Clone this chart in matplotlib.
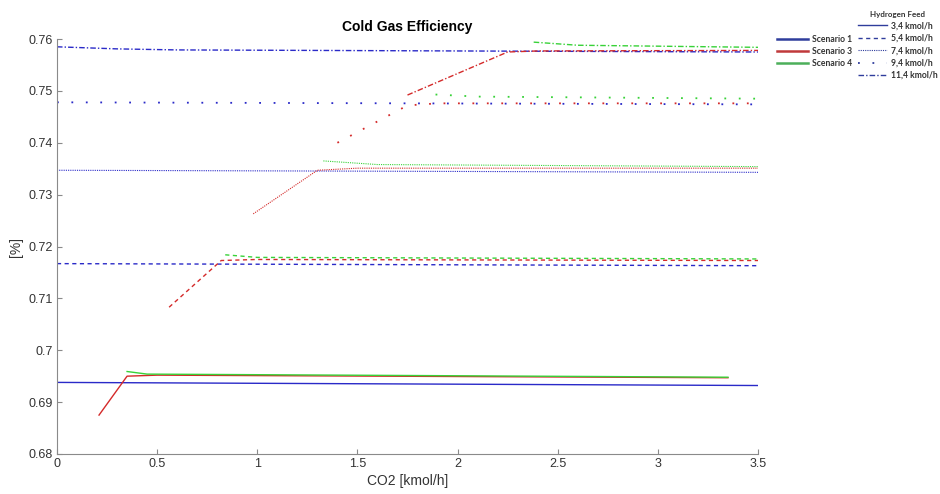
import matplotlib
matplotlib.use("Agg")
import matplotlib.pyplot as plt
from matplotlib.lines import Line2D

# ---------------- data ----------------
feeds = ["3,4 kmol/h", "5,4 kmol/h", "7,4 kmol/h", "9,4 kmol/h", "11,4 kmol/h"]
scenarios = ["Scenario 1", "Scenario 3", "Scenario 4"]

# Scenario 1 (blue)
s1_x_34 = [0.0, 3.5]
s1_y_34 = [0.6938, 0.6932]
s1_x_54 = [0.0, 3.5]
s1_y_54 = [0.7167, 0.7163]
s1_x_74 = [0.0, 3.5]
s1_y_74 = [0.7347, 0.7343]
s1_x_94 = [0.0, 3.5]
s1_y_94 = [0.7478, 0.7474]
s1_x_114 = [0.0, 0.3, 0.6, 2.0, 3.5]
s1_y_114 = [0.7585, 0.7581, 0.7579, 0.7577, 0.7575]

# Scenario 3 (red)
s3_x_34 = [0.21, 0.35, 0.5, 3.35]
s3_y_34 = [0.6875, 0.6950, 0.6952, 0.6947]
s3_x_54 = [0.56, 0.82, 1.0, 3.5]
s3_y_54 = [0.7083, 0.7173, 0.7175, 0.7173]
s3_x_74 = [0.98, 1.30, 1.5, 3.5]
s3_y_74 = [0.7263, 0.7347, 0.7351, 0.7351]
s3_x_94 = [1.40, 1.75, 1.9, 3.5]
s3_y_94 = [0.7400, 0.7472, 0.7476, 0.7476]
s3_x_114 = [1.75, 2.25, 2.4, 3.5]
s3_y_114 = [0.7492, 0.7575, 0.7577, 0.7578]

# Scenario 4 (green)
s4_x_34 = [0.35, 0.45, 3.35]
s4_y_34 = [0.6959, 0.6954, 0.6948]
s4_x_54 = [0.84, 1.0, 3.5]
s4_y_54 = [0.7184, 0.7179, 0.7176]
s4_x_74 = [1.33, 1.6, 3.5]
s4_y_74 = [0.7365, 0.7358, 0.7354]
s4_x_94 = [1.89, 2.1, 3.5]
s4_y_94 = [0.7493, 0.7489, 0.7485]
s4_x_114 = [2.38, 2.6, 3.5]
s4_y_114 = [0.7594, 0.7588, 0.7584]

x_ticks = [0, 0.5, 1, 1.5, 2, 2.5, 3, 3.5]
x_tick_labels = ["0", "0.5", "1", "1.5", "2", "2.5", "3", "3.5"]
y_ticks = [0.68, 0.69, 0.7, 0.71, 0.72, 0.73, 0.74, 0.75, 0.76]
y_tick_labels = ["0.68", "0.69", "0.7", "0.71", "0.72", "0.73", "0.74", "0.75", "0.76"]

# ---------------- style ----------------
plt.rcParams["font.family"] = ["Liberation Sans", "DejaVu Sans"]

c_blue = "#2a2ac8"
c_red = "#d42a2a"
c_green = "#38d238"
c_leg_blue = "#2f3d9c"
c_leg_red = "#c0393b"
c_leg_green = "#4caf5a"

styles = [
    dict(linestyle="-", lw=1.0),
    dict(linestyle=(0, (3, 2.5)), lw=1.0),
    dict(linestyle=(0, (1, 1)), lw=0.8),
    dict(linestyle=(0, (1, 7.0)), lw=1.3),
    dict(linestyle=(0, (4, 1.5, 1, 1.5)), lw=1.0),
]

fig = plt.figure(figsize=(9.4, 4.94), dpi=100)
ax = fig.add_axes([0.0606, 0.081, 0.7458, 0.840])

series = [
    (c_blue, [(s1_x_34, s1_y_34), (s1_x_54, s1_y_54), (s1_x_74, s1_y_74), (s1_x_94, s1_y_94), (s1_x_114, s1_y_114)]),
    (c_red, [(s3_x_34, s3_y_34), (s3_x_54, s3_y_54), (s3_x_74, s3_y_74), (s3_x_94, s3_y_94), (s3_x_114, s3_y_114)]),
    (c_green, [(s4_x_34, s4_y_34), (s4_x_54, s4_y_54), (s4_x_74, s4_y_74), (s4_x_94, s4_y_94), (s4_x_114, s4_y_114)]),
]
for color, curves in series:
    for (xs, ys), st in zip(curves, styles):
        ax.plot(xs, ys, color=color, **st)

ax.set_xlim(0, 3.5)
ax.set_ylim(0.68, 0.76)
ax.set_xticks(x_ticks)
ax.set_xticklabels(x_tick_labels)
ax.set_yticks(y_ticks)
ax.set_yticklabels(y_tick_labels)
for s in ["top", "right"]:
    ax.spines[s].set_visible(False)
for s in ["left", "bottom"]:
    ax.spines[s].set_color("#8a8a8a")
    ax.spines[s].set_linewidth(0.8)
ax.tick_params(direction="in", length=3.6, width=0.8, pad=3, color="#8a8a8a",
               labelcolor="#333333", labelsize=9)
ax.set_xlabel("CO2 [kmol/h]", fontsize=10, color="#333333", labelpad=3)
ax.set_ylabel("[%]", fontsize=10, color="#333333", labelpad=4)
ax.set_title("Cold Gas Efficiency", fontsize=10, fontweight="bold", pad=6)

# legends
leg_font = ["Lato", "Liberation Sans", "DejaVu Sans"]
scen_handles = [Line2D([], [], color=c, lw=1.8) for c in (c_leg_blue, c_leg_red, c_leg_green)]
leg1 = fig.legend(scen_handles, scenarios, loc="upper left", bbox_to_anchor=(0.827, 0.930),
                  frameon=False, handlelength=3.6, handletextpad=0.45, borderpad=0,
                  borderaxespad=0, labelspacing=0.4,
                  prop=dict(family=leg_font, size=6.2, weight="bold"))
for t in leg1.get_texts():
    t.set_color("#333333")

feed_handles = [Line2D([], [], color=c_leg_blue, **st) for st in styles]
leg2 = fig.legend(feed_handles, feeds, loc="upper left", bbox_to_anchor=(0.913, 0.978),
                  frameon=False, handlelength=3.4, handletextpad=0.35, borderpad=0,
                  borderaxespad=0, labelspacing=0.4,
                  prop=dict(family=leg_font, size=6.2, weight="bold"),
                  title="Hydrogen Feed",
                  title_fontproperties=dict(family=leg_font, size=5.8, weight="bold"))
for t in leg2.get_texts():
    t.set_color("#333333")
leg2.get_title().set_color("#333333")

fig.savefig("out.png", dpi=100)
